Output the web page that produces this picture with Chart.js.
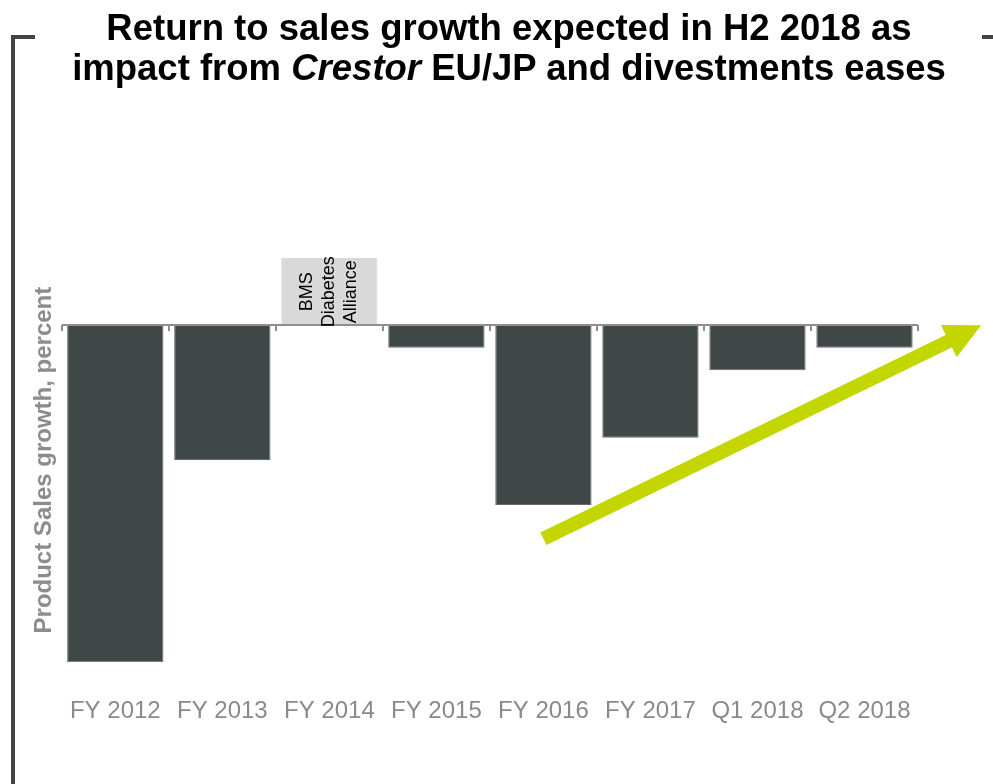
<!DOCTYPE html>
<html>
<head>
<meta charset="utf-8">
<script src="https://cdn.jsdelivr.net/npm/chart.js@4"></script>
<style>
  html, body { margin: 0; padding: 0; background: #fff; overflow: hidden; }
  #wrap { position: relative; width: 993px; height: 784px; }
  #title {
    position: absolute; left: 25px; top: 8px; width: 968px;
    text-align: center; font: bold 36.5px "Liberation Sans", Arial, sans-serif;
    line-height: 40px; color: #000;
  }
  .frame { position: absolute; background: #404545; }
</style>
</head>
<body>
<div id="wrap">
  <canvas id="salesChart" width="993" height="784"></canvas>
  <div class="frame" style="left:11px; top:35px; width:4px; height:749px;"></div>
  <div class="frame" style="left:11px; top:35px; width:24px; height:4px;"></div>
  <div class="frame" style="left:982px; top:35px; width:11px; height:4px;"></div>
  <div id="title">Return to sales growth expected in H2 2018 as<br>impact from <i>Crestor</i> EU/JP and divestments eases</div>
</div>
<script>
const periods = ["FY 2012", "FY 2013", "FY 2014", "FY 2015", "FY 2016", "FY 2017", "Q1 2018", "Q2 2018"];
const growth = [-15, -6, 3, -1, -8, -5, -2, -1];
const allianceNote = ["BMS", "Diabetes", "Alliance"];
const allianceIndex = 2;
// trend arrow: [category index, percent] from start to tip
const trendFrom = [4, -9.5];
const trendTo = [8.09, 0];

const FONT = '"Liberation Sans", Arial, sans-serif';

// zero line with small boundary ticks, the alliance note and the trend arrow
const overlay = {
  id: "overlay",
  afterDatasetsDraw(chart) {
    const { ctx, chartArea, scales } = chart;
    const x = scales.x, y = scales.y;
    const y0 = Math.round(y.getPixelForValue(0));

    ctx.save();
    ctx.strokeStyle = "#8f8f8f";
    ctx.lineWidth = 2;
    ctx.beginPath();
    ctx.moveTo(chartArea.left, y0);
    ctx.lineTo(chartArea.right, y0);
    for (let i = 0; i <= periods.length; i++) {
      const px = Math.round(x.getPixelForValue(i - 0.5));
      ctx.moveTo(px, y0);
      ctx.lineTo(px, y0 + 6);
    }
    ctx.stroke();

    // rotated note inside the FY 2014 bar
    const bar = chart.getDatasetMeta(0).data[allianceIndex];
    const cy = (bar.y + bar.base) / 2;
    ctx.translate(bar.x, cy);
    ctx.rotate(-Math.PI / 2);
    ctx.fillStyle = "#000";
    ctx.font = "18px " + FONT;
    ctx.textAlign = "center";
    ctx.textBaseline = "middle";
    const lh = 22;
    allianceNote.forEach((t, i) => {
      ctx.fillText(t, 0, (i - (allianceNote.length - 1) / 2) * lh);
    });
    ctx.restore();

    // arrow
    const sx = x.getPixelForValue(trendFrom[0]), sy = y.getPixelForValue(trendFrom[1]);
    const tx = x.getPixelForValue(trendTo[0]), ty = y.getPixelForValue(trendTo[1]);
    const ang = Math.atan2(ty - sy, tx - sx);
    const len = Math.hypot(tx - sx, ty - sy);
    const headLen = 36, headW = 36, shaftW = 14;
    ctx.save();
    ctx.translate(sx, sy);
    ctx.rotate(ang);
    ctx.fillStyle = "#c4d600";
    ctx.fillRect(0, -shaftW / 2, len - headLen + 1, shaftW);
    ctx.beginPath();
    ctx.moveTo(len - headLen, -headW / 2);
    ctx.lineTo(len, 0);
    ctx.lineTo(len - headLen, headW / 2);
    ctx.closePath();
    ctx.fill();
    ctx.restore();
  }
};

new Chart(document.getElementById("salesChart"), {
  type: "bar",
  data: {
    labels: periods,
    datasets: [{
      data: growth,
      backgroundColor: c => (c.dataIndex === allianceIndex ? "#d9d9d9" : "#404747"),
      borderColor: c => (c.dataIndex === allianceIndex ? "#d9d9d9" : "#666b6b"),
      borderWidth: 1,
      barPercentage: 0.9,
      categoryPercentage: 1
    }]
  },
  options: {
    responsive: false,
    animation: false,
    layout: { padding: { top: 258, right: 75, bottom: 23, left: 30 } },
    plugins: { legend: { display: false }, tooltip: { enabled: false } },
    scales: {
      x: {
        grid: { display: false, drawTicks: false },
        border: { display: false },
        ticks: {
          color: "#8a8a8a",
          font: { family: FONT, size: 24 },
          padding: 35,
          maxRotation: 0,
          autoSkip: false
        }
      },
      y: {
        min: -15,
        max: 3,
        grid: { display: false, drawTicks: false },
        border: { display: false },
        ticks: { display: false },
        title: {
          display: true,
          text: "Product Sales growth, percent",
          color: "#8c8c8c",
          font: { family: FONT, size: 24, weight: "bold" },
          padding: { top: 0, bottom: 3 }
        }
      }
    }
  },
  plugins: [overlay]
});
</script>
</body>
</html>
